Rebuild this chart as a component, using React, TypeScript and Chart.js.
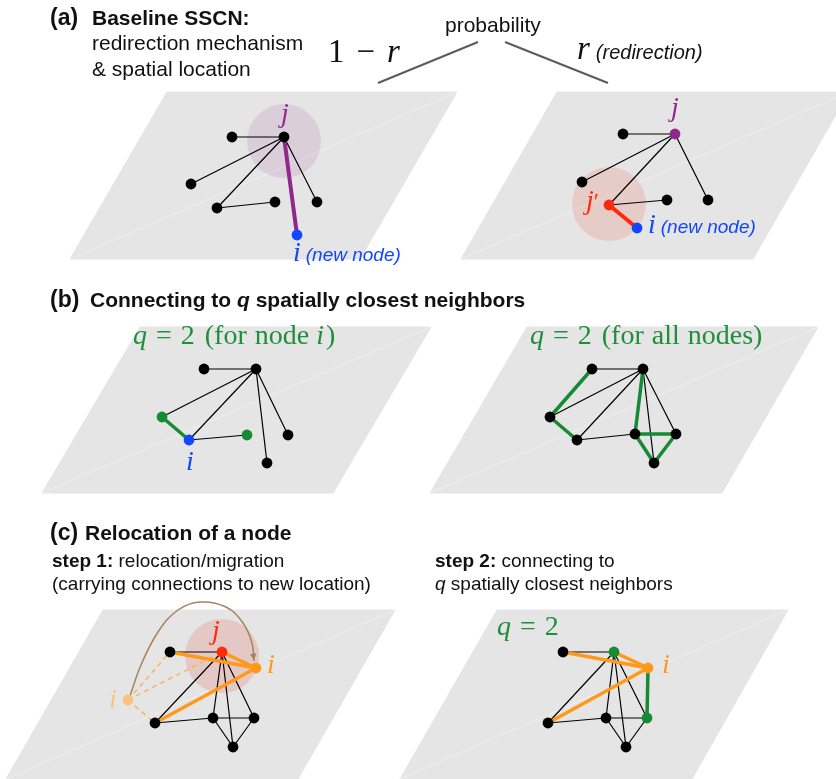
import React, { useEffect, useRef } from "react";
import { Chart, registerables } from "chart.js";
Chart.register(...registerables);

type P = [number, number];
type E = [number, number];

const W = 836;
const H = 779;

// ---- grey planes (corners TL, TR, BR, BL) ----
const planeA1: P[] = [[167, 92], [457, 92], [360, 259], [70, 259]];
const planeA2: P[] = [[557, 92], [849, 92], [753, 259], [461, 259]];
const planeB1: P[] = [[140, 327], [431, 327], [333, 493], [42, 493]];
const planeB2: P[] = [[527, 327], [818, 327], [722, 493], [430, 493]];
const planeC1: P[] = [[103, 610], [395, 610], [298, 779], [6, 779]];
const planeC2: P[] = [[497, 610], [788, 610], [692, 779], [400, 779]];

// ---- probability branches ----
const probLeft: P[] = [[478, 42], [378, 83]];
const probRight: P[] = [[505, 42], [608, 83]];

// ---- panel (a) left ----
const nodesA1: P[] = [[284, 137], [232, 137], [191, 184], [217, 208], [275, 202], [317, 202], [297, 235]];
const kindsA1 = ["k", "k", "k", "k", "k", "k", "b"];
const thinA1: E[] = [[0, 1], [0, 2], [0, 3], [3, 4], [0, 5]];
const thickA1: E[] = [[0, 6]];
const haloA1: P = [284, 141];

// ---- panel (a) right ----
const nodesA2: P[] = [[675, 134], [623, 134], [582, 182], [609, 205], [667, 200], [708, 200], [637, 228]];
const kindsA2 = ["p", "k", "k", "r", "k", "k", "b"];
const thinA2: E[] = [[0, 1], [0, 2], [0, 3], [3, 4], [0, 5]];
const thickA2: E[] = [[3, 6]];
const haloA2: P = [609, 204];

// ---- panel (b) left ----
const nodesB1: P[] = [[204, 369], [256, 369], [162, 417], [189, 440], [247, 435], [288, 435], [267, 463]];
const kindsB1 = ["k", "k", "g", "b", "g", "k", "k"];
const thinB1: E[] = [[0, 1], [1, 2], [1, 3], [1, 5], [1, 6], [3, 4]];
const greenB1: E[] = [[2, 3]];

// ---- panel (b) right ----
const nodesB2: P[] = [[592, 369], [643, 369], [550, 417], [577, 440], [635, 434], [676, 434], [654, 463]];
const kindsB2 = ["k", "k", "k", "k", "k", "k", "k"];
const thinB2: E[] = [[0, 1], [1, 2], [1, 3], [3, 4], [1, 5], [1, 6]];
const greenB2: E[] = [[0, 2], [2, 3], [1, 4], [4, 5], [4, 6], [5, 6]];

// ---- panel (c) left ----
const nodesC1: P[] = [[170, 652], [222, 652], [256, 668], [128, 700], [155, 723], [213, 718], [254, 718], [233, 747]];
const kindsC1 = ["k", "r", "o", "f", "k", "k", "k", "k"];
const thinC1: E[] = [[0, 1], [1, 4], [1, 5], [1, 7], [1, 6], [4, 5], [5, 6], [5, 7], [6, 7]];
const orangeC1: E[] = [[0, 2], [1, 2], [4, 2]];
const dashedC1: E[] = [[3, 0], [3, 1], [3, 4]];
const haloC1: P = [222, 656];
const moveArc: P[] = [[130, 696], [141, 665], [158, 632], [178, 610], [200, 602], [226, 607], [243, 623], [252, 643], [254, 661]];

// ---- panel (c) right ----
const nodesC2: P[] = [[563, 652], [614, 652], [648, 668], [548, 723], [606, 718], [647, 718], [626, 747]];
const kindsC2 = ["k", "g", "o", "k", "k", "g", "k"];
const thinC2: E[] = [[0, 1], [1, 3], [1, 4], [1, 6], [1, 5], [3, 4], [4, 5], [4, 6], [5, 6]];
const orangeC2: E[] = [[0, 2], [1, 2], [3, 2]];
const greenC2: E[] = [[2, 5]];

const COL: Record<string, string> = {
  k: "#000000",
  b: "#1246ff",
  p: "#8e288e",
  r: "#ff2a0c",
  g: "#168a34",
  o: "#ff991c",
  f: "#f8c47e",
};
const PLANE = "#e5e5e5";
const GREEN_T = "#1f8f3c";

const SANS = '"Liberation Sans", Arial, Helvetica, sans-serif';
const SERIF = '"Liberation Serif", "Times New Roman", serif';
const sans = (s: number, b = false, i = false) => `${i ? "italic " : ""}${b ? "bold " : ""}${s}px ${SANS}`;
const serif = (s: number, i = false) => `${i ? "italic " : ""}${s}px ${SERIF}`;

type Seg = { t: string; f: string; c: string; dx?: number };
type Label = { segs: Seg[]; x: number; y: number; align?: "left" | "center" };

const K = "#111111";
const labels: Label[] = [
  { x: 50, y: 25, segs: [{ t: "(a)", f: sans(23, true), c: K }] },
  { x: 92, y: 25, segs: [{ t: "Baseline SSCN:", f: sans(21, true), c: K }] },
  { x: 92, y: 50, segs: [{ t: "redirection mechanism", f: sans(21), c: K }] },
  { x: 92, y: 76, segs: [{ t: "& spatial location", f: sans(21), c: K }] },
  { x: 445, y: 32, segs: [{ t: "probability", f: sans(21), c: K }] },
  {
    x: 328, y: 62, segs: [
      { t: "1", f: serif(33), c: K },
      { t: "\u2212", f: serif(33), c: K, dx: 12 },
      { t: "r", f: serif(33, true), c: K, dx: 12 },
    ],
  },
  {
    x: 577, y: 59, segs: [
      { t: "r", f: serif(33, true), c: K },
      { t: "(redirection)", f: sans(20, false, true), c: K, dx: 6 },
    ],
  },
  { x: 285, y: 122, align: "center", segs: [{ t: "j", f: serif(28, true), c: COL.p }] },
  {
    x: 293, y: 261, segs: [
      { t: "i", f: serif(28, true), c: COL.b },
      { t: "(new node)", f: sans(19, false, true), c: COL.b, dx: 5 },
    ],
  },
  { x: 675, y: 116, align: "center", segs: [{ t: "j", f: serif(28, true), c: COL.p }] },
  {
    x: 586, y: 209, segs: [
      { t: "j", f: serif(28, true), c: COL.r },
      { t: "\u2032", f: serif(24), c: COL.r, dx: 0 },
    ],
  },
  {
    x: 648, y: 233, segs: [
      { t: "i", f: serif(28, true), c: COL.b },
      { t: "(new node)", f: sans(19, false, true), c: COL.b, dx: 5 },
    ],
  },
  { x: 50, y: 307, segs: [{ t: "(b)", f: sans(23, true), c: K }] },
  {
    x: 90, y: 307, segs: [
      { t: "Connecting to ", f: sans(21, true), c: K },
      { t: "q", f: sans(21, true, true), c: K },
      { t: " spatially closest neighbors", f: sans(21, true), c: K },
    ],
  },
  {
    x: 133, y: 344, segs: [
      { t: "q", f: serif(28, true), c: GREEN_T },
      { t: "=", f: serif(28), c: GREEN_T, dx: 9 },
      { t: "2", f: serif(28), c: GREEN_T, dx: 9 },
      { t: "(for", f: serif(28), c: GREEN_T, dx: 10 },
      { t: "node", f: serif(28), c: GREEN_T, dx: 8 },
      { t: "i", f: serif(28, true), c: GREEN_T, dx: 7 },
      { t: ")", f: serif(28), c: GREEN_T, dx: 2 },
    ],
  },
  {
    x: 530, y: 344, segs: [
      { t: "q", f: serif(28, true), c: GREEN_T },
      { t: "=", f: serif(28), c: GREEN_T, dx: 9 },
      { t: "2", f: serif(28), c: GREEN_T, dx: 9 },
      { t: "(for", f: serif(28), c: GREEN_T, dx: 10 },
      { t: "all", f: serif(28), c: GREEN_T, dx: 8 },
      { t: "nodes)", f: serif(28), c: GREEN_T, dx: 8 },
    ],
  },
  { x: 190, y: 470, align: "center", segs: [{ t: "i", f: serif(28, true), c: COL.b }] },
  { x: 50, y: 540, segs: [{ t: "(c)", f: sans(23, true), c: K }] },
  { x: 85, y: 540, segs: [{ t: "Relocation of a node", f: sans(21, true), c: K }] },
  {
    x: 52, y: 567, segs: [
      { t: "step 1:", f: sans(19, true), c: K },
      { t: " relocation/migration", f: sans(19), c: K },
    ],
  },
  { x: 52, y: 590, segs: [{ t: "(carrying connections to new location)", f: sans(19), c: K }] },
  {
    x: 435, y: 567, segs: [
      { t: "step 2:", f: sans(19, true), c: K },
      { t: " connecting to", f: sans(19), c: K },
    ],
  },
  {
    x: 435, y: 590, segs: [
      { t: "q", f: sans(19, false, true), c: K },
      { t: " spatially closest neighbors", f: sans(19), c: K },
    ],
  },
  { x: 216, y: 639, align: "center", segs: [{ t: "j", f: serif(28, true), c: COL.r }] },
  { x: 271, y: 673, align: "center", segs: [{ t: "i", f: serif(28, true), c: COL.o }] },
  { x: 113, y: 708, align: "center", segs: [{ t: "i", f: serif(28, true), c: COL.f }] },
  {
    x: 497, y: 635, segs: [
      { t: "q", f: serif(28, true), c: GREEN_T },
      { t: "=", f: serif(28), c: GREEN_T, dx: 9 },
      { t: "2", f: serif(28), c: GREEN_T, dx: 9 },
    ],
  },
  { x: 666, y: 673, align: "center", segs: [{ t: "i", f: serif(28, true), c: COL.o }] },
];

const pts = (a: P[]) => a.map(([x, y]) => ({ x, y }));

const lineDs = (p: P[], color: string, width: number, order: number, extra: any = {}) => ({
  data: pts(p),
  showLine: true,
  borderColor: color,
  borderWidth: width,
  pointRadius: 0,
  pointHoverRadius: 0,
  fill: false,
  tension: 0,
  order,
  ...extra,
});

const planeDs = (p: P[]) => [
  lineDs([...p, p[0]], PLANE, 1, 100, { fill: "shape", backgroundColor: PLANE }),
  lineDs([p[3], p[1]], "rgba(255,255,255,0.4)", 1, 99),
];

const edgeDs = (nodes: P[], edges: E[], color: string, width: number, order: number, extra: any = {}) =>
  edges.map(([a, b]) => lineDs([nodes[a], nodes[b]], color, width, order, { borderCapStyle: "round", ...extra }));

const nodeDs = (nodes: P[], kinds: string[]) => ({
  data: pts(nodes),
  showLine: false,
  pointRadius: 5.4,
  pointHoverRadius: 5.4,
  pointBorderWidth: 0,
  pointBackgroundColor: kinds.map((k) => COL[k]),
  pointBorderColor: kinds.map((k) => COL[k]),
  order: 10,
});

const haloDs = (c: P, color: string) => ({
  data: pts([c]),
  showLine: false,
  pointRadius: 37,
  pointHoverRadius: 37,
  pointBorderWidth: 0,
  pointBackgroundColor: color,
  pointBorderColor: color,
  order: 90,
});

const textPlugin = {
  id: "diagramText",
  afterDatasetsDraw(chart: any) {
    const { ctx, scales } = chart;
    const sx = scales.x;
    const sy = scales.y;
    ctx.save();
    // arrow head of the migration arc
    const meta = chart.getDatasetMeta(chart.data.datasets.findIndex((d: any) => d.label === "arc"));
    if (meta && meta.data.length) {
      const last = meta.data[meta.data.length - 1];
      const ang = Math.atan2(last.y - last.cp1y, last.x - last.cp1x);
      ctx.fillStyle = "#a6845c";
      ctx.beginPath();
      ctx.moveTo(last.x, last.y);
      ctx.lineTo(last.x - 8 * Math.cos(ang - 0.4), last.y - 8 * Math.sin(ang - 0.4));
      ctx.lineTo(last.x - 8 * Math.cos(ang + 0.4), last.y - 8 * Math.sin(ang + 0.4));
      ctx.closePath();
      ctx.fill();
    }
    ctx.textBaseline = "alphabetic";
    ctx.textAlign = "left";
    for (const l of labels) {
      let w = 0;
      for (const s of l.segs) {
        ctx.font = s.f;
        w += ctx.measureText(s.t).width + (s.dx || 0);
      }
      let cx = sx.getPixelForValue(l.x) - (l.align === "center" ? w / 2 : 0);
      const cy = sy.getPixelForValue(l.y);
      for (const s of l.segs) {
        ctx.font = s.f;
        ctx.fillStyle = s.c;
        cx += s.dx || 0;
        ctx.fillText(s.t, cx, cy);
        cx += ctx.measureText(s.t).width;
      }
    }
    ctx.restore();
  },
};

export default function App() {
  const ref = useRef<HTMLCanvasElement | null>(null);
  useEffect(() => {
    document.body.style.margin = "0";
    if (!ref.current) return;
    const datasets: any[] = [
      ...planeDs(planeA1), ...planeDs(planeA2), ...planeDs(planeB1),
      ...planeDs(planeB2), ...planeDs(planeC1), ...planeDs(planeC2),
      lineDs(probLeft, "#5a5a62", 2, 50),
      lineDs(probRight, "#5a5a62", 2, 50),
      haloDs(haloA1, "rgba(165,95,165,0.17)"),
      haloDs(haloA2, "rgba(230,120,95,0.22)"),
      haloDs(haloC1, "rgba(225,110,95,0.24)"),
      ...edgeDs(nodesA1, thinA1, "#000", 1.2, 50),
      ...edgeDs(nodesA1, thickA1, COL.p, 4, 40),
      ...edgeDs(nodesA2, thinA2, "#000", 1.2, 50),
      ...edgeDs(nodesA2, thickA2, COL.r, 4, 40),
      ...edgeDs(nodesB1, thinB1, "#000", 1.2, 50),
      ...edgeDs(nodesB1, greenB1, COL.g, 3.5, 40),
      ...edgeDs(nodesB2, thinB2, "#000", 1.2, 50),
      ...edgeDs(nodesB2, greenB2, COL.g, 3.5, 40),
      ...edgeDs(nodesC1, thinC1, "#000", 1.2, 50),
      ...edgeDs(nodesC1, dashedC1, "#f7b561", 1.5, 55, { borderDash: [5, 4], borderCapStyle: "butt" }),
      ...edgeDs(nodesC1, orangeC1, COL.o, 3.5, 40),
      lineDs(moveArc, "#a6845c", 1.5, 45, { tension: 0.4, label: "arc" }),
      ...edgeDs(nodesC2, thinC2, "#000", 1.2, 50),
      ...edgeDs(nodesC2, orangeC2, COL.o, 3.5, 40),
      ...edgeDs(nodesC2, greenC2, COL.g, 3.5, 40),
      nodeDs(nodesA1, kindsA1),
      nodeDs(nodesA2, kindsA2),
      nodeDs(nodesB1, kindsB1),
      nodeDs(nodesB2, kindsB2),
      nodeDs(nodesC1, kindsC1),
      nodeDs(nodesC2, kindsC2),
    ];
    const chart = new Chart(ref.current, {
      type: "scatter",
      data: { datasets },
      options: {
        responsive: false,
        animation: false,
        events: [],
        layout: { padding: 0, autoPadding: false },
        plugins: {
          legend: { display: false },
          tooltip: { enabled: false },
        },
        scales: {
          x: { type: "linear", min: 0, max: W, display: false },
          y: { type: "linear", min: 0, max: H, reverse: true, display: false },
        },
      },
      plugins: [textPlugin],
    } as any);
    return () => chart.destroy();
  }, []);
  return (
    <div style={{ width: W, height: H, background: "#fff" }}>
      <canvas ref={ref} width={W} height={H} style={{ display: "block", width: W, height: H }} />
    </div>
  );
}
